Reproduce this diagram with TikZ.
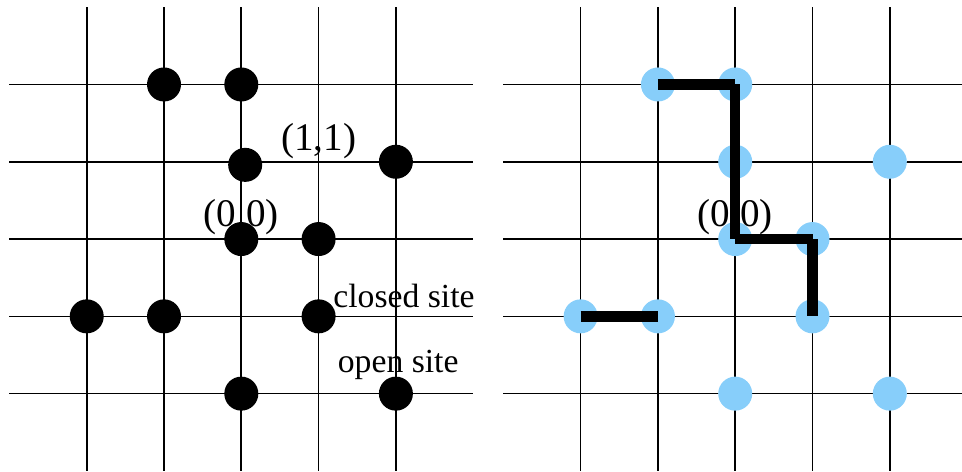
\documentclass[tikz,border=0pt]{standalone}
\usepackage{fontspec}
\setmainfont{Liberation Serif}
\usepackage{tikz}
\usetikzlibrary{positioning}
\definecolor{openblue}{RGB}{135,206,250}
\tikzset{
    gridline/.style={line width=0.6pt, black},
    site/.style={circle, inner sep=0pt, minimum size=0.44cm, draw=none},
    closedsite/.style={site, fill=black},
    opensite/.style={site, fill=openblue},
    coordlabel/.style={font=\fontsize{14.4}{17}\selectfont, inner sep=0pt},
    sitelabel/.style={font=\fontsize{12.4}{15}\selectfont, inner sep=0pt, anchor=base},
    walk/.style={line width=3.8pt, black, line cap=butt},
}

\begin{document}
\begin{tikzpicture}
      \useasboundingbox (-1.122,-1.013) rectangle (11.324,5.093);
      % left lattice
      \foreach \k in {0,...,4}{
      \draw[gridline] (\k,-1) -- (\k,5);
      \draw[gridline] (-1,\k) -- (5,\k);
      }
      \foreach \x/\y/\n in {1/4/14,2/4/24,2.05/2.96/23,4/3/43,2/2/22,3/2/32,0/1/01,1/1/11,3/1/31,2/0/20,4/0/40}
      \node[closedsite] (c\n) at (\x,\y) {};
      \node[coordlabel] (c11lab) at (3,3.27) {(1,1)};
      \node[coordlabel] (c00lab) at (2,2.28) {(0,0)};
      \node[sitelabel] (closedlab) at (4.105,1.113) {closed site};
      \node[sitelabel] (openlab) at (4.03,0.272) {open site};

      % right lattice
      \begin{scope}[shift={(6.39,0)}]
      \foreach \k in {0,...,4}{
      \draw[gridline] (\k,-1) -- (\k,5);
      \draw[gridline] (-1,\k) -- (6,\k);
      }
      \foreach \x/\y/\n in {1/4/14,2/4/24,2/3/23,4/3/43,2/2/22,3/2/32,0/1/01,1/1/11,3/1/31,2/0/20,4/0/40}
      \node[opensite] (o\n) at (\x,\y) {};
      \node[coordlabel] (o00lab) at (2,2.29) {(0,0)};
      \draw[walk] (o14.center) -- (o24.center);
      \draw[walk] (o24.center) -- (o23.center);
      \draw[walk] (o23.center) -- (o22.center);
      \draw[walk] (o22.center) -- (o32.center);
      \draw[walk] (o32.center) -- (o31.center);
      \draw[walk] (o01.center) -- (o11.center);
      \end{scope}
\end{tikzpicture}
\end{document}
